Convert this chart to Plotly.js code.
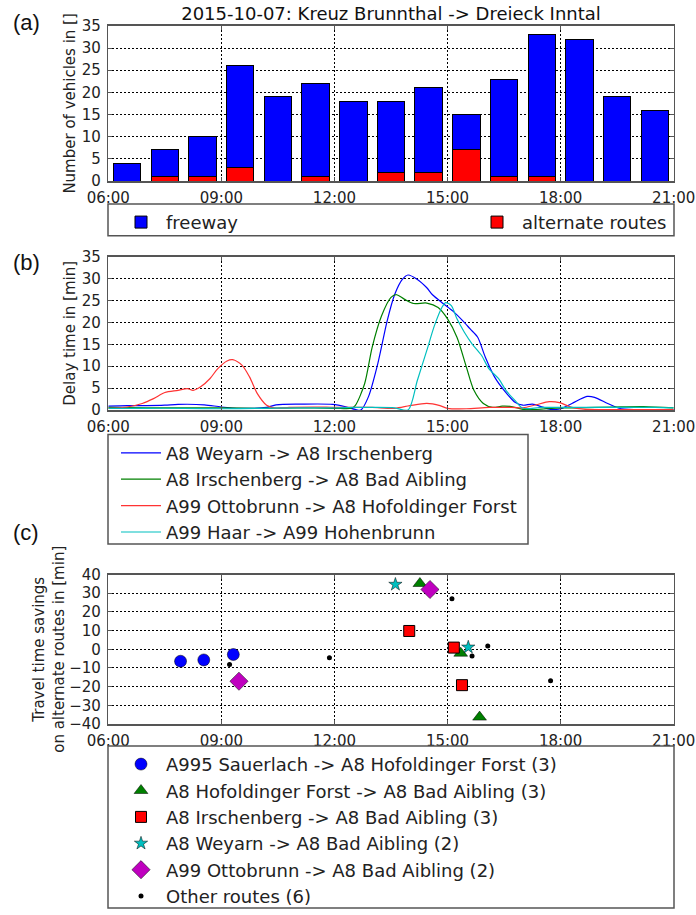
<!DOCTYPE html>
<html><head><meta charset="utf-8">
<script src="https://cdn.plot.ly/plotly-3.0.1.min.js"></script>
<style>html,body{margin:0;padding:0;background:#fff}#chart{width:696px;height:915px}</style>
</head><body><div id="chart"></div><script>
const DAY = '2015-10-07 ';

// ---------- (a) vehicles per hour ----------
const hourBins = ['06:00','07:00','08:00','09:00','10:00','11:00','12:00','13:00','14:00','15:00','16:00','17:00','18:00','19:00','20:00'];
const freeway   = [4, 6, 9, 23, 19, 21, 18, 16, 19, 8, 22, 32, 32, 19, 16];
const alternate = [0, 1, 1, 3, 0, 1, 0, 2, 2, 7, 1, 1, 0, 0, 0];

// ---------- (b) delay time [min] ----------
const weyarnTimes = ['06:00','06:30','07:00','07:30','07:51','08:33','09:00','09:30','10:12','10:27','11:06','11:57','12:18','12:33','12:42','12:54','13:09','13:24','13:36','13:48','13:57','14:12','14:27','14:36','14:54','15:09','15:24','15:36','15:48','16:00','16:15','16:30','16:48','17:00','17:15','17:30','17:42','18:00','18:18','18:42','18:54','19:15','19:33','20:00','20:30','21:00'];
const weyarnDelay = [0.9,1.0,1.0,1.1,1.3,1.2,0.7,0.4,0.6,1.2,1.35,1.3,0.75,0.15,0.0,3.0,10.6,20.4,26.4,29.8,30.8,29.8,27.9,26.3,24.2,22.5,20.4,18.5,16.6,12.1,7.5,4.5,1.7,1.1,1.35,0.75,0.2,0.3,1.5,3.1,2.9,1.5,0.4,0.1,0.1,0.1];

const irschTimes = ['06:00','07:00','08:00','09:00','10:00','11:00','12:00','12:27','12:33','12:48','13:00','13:15','13:30','13:39','13:51','14:06','14:27','14:45','15:00','15:15','15:30','15:42','15:57','16:12','16:27','16:42','17:00','17:15','18:00','18:24','19:24','20:12','21:00'];
const irschDelay = [0.6,0.5,0.5,0.5,0.4,0.5,0.4,0.4,1.0,6.0,14.3,21.5,25.7,26.3,25.3,24.3,24.4,23.4,20.8,16.6,9.8,4.5,1.5,0.6,0.9,0.8,0.15,0.1,0.5,0.5,0.7,0.8,0.5];

const ottoTimes = ['06:00','06:30','06:54','07:12','07:30','07:51','08:06','08:15','08:27','08:42','08:54','09:09','09:18','09:33','09:45','09:57','10:12','10:27','10:48','11:30','12:00','12:30','13:00','13:36','14:00','14:27','14:48','15:00','15:30','16:06','16:42','17:00','17:21','17:42','17:58','18:18','18:36','19:30','20:30','21:00'];
const ottoDelay = [0.4,0.7,1.5,2.6,4.0,4.5,4.9,4.5,5.3,7.2,9.4,11.2,11.5,10.2,7.5,3.8,1.1,0.4,0.6,0.7,0.6,0.6,0.6,0.4,1.0,1.5,1.0,0.4,0.3,0.6,0.6,0.5,1.2,1.9,1.7,0.6,0.2,0.1,0.1,0.1];

const haarTimes = ['06:00','07:00','08:00','09:00','10:00','11:00','12:00','12:30','13:00','13:36','13:57','14:12','14:27','14:39','14:51','14:57','15:06','15:15','15:27','15:39','15:54','16:06','16:21','16:33','16:48','17:00','17:30','18:30','19:30','20:30','21:00'];
const haarDelay = [0.4,0.4,0.4,0.3,0.4,0.5,0.5,0.6,0.6,0.5,0.0,6.8,13.6,19.2,23.4,24.5,23.8,20.8,17.7,15.1,12.5,9.4,7.2,4.5,2.1,0.4,0.6,0.6,0.6,0.6,0.5];

// ---------- (c) travel time savings [min] ----------
const sauerTimes = ['07:55','08:32','09:19'];      const sauerSave = [-6.4,-5.7,-2.8];
const hofoTimes  = ['14:16','15:21','15:51'];      const hofoSave  = [35.2,-2.1,-36.3];
const irBATimes  = ['13:59','15:10','15:23'];      const irBASave  = [9.8,0.9,-19.2];
const weBATimes  = ['13:37','15:33'];              const weBASave  = [34.7,1.1];
const otBATimes  = ['14:32','09:28'];              const otBASave  = [32.0,-17.1];
const otherTimes = ['09:13','11:52','15:07','16:04','15:39','17:44']; const otherSave = [-8.2,-4.6,27.0,1.8,-3.6,-16.9];

const tickLabels = ['06:00','09:00','12:00','15:00','18:00','21:00'];

// ---------- layout helpers ----------
const FONT = 'DejaVu Sans, sans-serif';
const W = 696, H = 915;
const px = v => v / W;
const py = v => 1 - v / H;
const X0 = 108.3, X1 = 673.7;
const d = arr => arr.map(t => DAY + t);
const HOUR = 3600e3;

function xAxis(anchor) {
  return {
    domain: [px(X0), px(X1)], anchor: anchor, type: 'date',
    range: [DAY + '06:00', DAY + '21:00'],
    tickvals: d(tickLabels), ticktext: tickLabels,
    showgrid: true, gridcolor: '#000', griddash: '2px,2px', gridwidth: 1,
    showline: true, linecolor: '#555', linewidth: 1.5, mirror: 'ticks',
    ticks: 'inside', ticklen: 4, tickcolor: '#555', ticklabelstandoff: 2,
    tickfont: {family: FONT, size: 15, color: '#222'}, zeroline: false, fixedrange: true
  };
}
function yAxis(anchor, top, bot, range, dtick, title, standoff) {
  return {
    domain: [py(bot), py(top)], anchor: anchor, range: range, dtick: dtick, tick0: 0,
    showgrid: true, gridcolor: '#000', griddash: '2px,2px', gridwidth: 1,
    showline: true, linecolor: '#555', linewidth: 1.5, mirror: 'ticks',
    ticks: 'inside', ticklen: 4, tickcolor: '#555', ticklabelstandoff: 3,
    tickfont: {family: FONT, size: 15, color: '#222'}, zeroline: false, fixedrange: true,
    title: {text: title, font: {family: FONT, size: 15, color: '#222'}, standoff: standoff}
  };
}

const traces = [
  {type: 'bar', x: d(hourBins), y: alternate, name: 'alternate routes', xaxis: 'x', yaxis: 'y',
   offset: 0.135 * HOUR, width: 0.73 * HOUR, legend: 'legend2',
   marker: {color: '#ff0000', line: {color: '#000', width: 1}}},
  {type: 'bar', x: d(hourBins), y: freeway, name: 'freeway', xaxis: 'x', yaxis: 'y',
   offset: 0.135 * HOUR, width: 0.73 * HOUR, legend: 'legend',
   marker: {color: '#0000ff', line: {color: '#000', width: 1}}},

  {type: 'scatter', mode: 'lines', x: d(weyarnTimes), y: weyarnDelay, name: 'A8 Weyarn -> A8 Irschenberg',
   xaxis: 'x2', yaxis: 'y2', legend: 'legend3', line: {color: '#0000ff', width: 1.2, shape: 'spline', smoothing: 0.8}},
  {type: 'scatter', mode: 'lines', x: d(irschTimes), y: irschDelay, name: 'A8 Irschenberg -> A8 Bad Aibling',
   xaxis: 'x2', yaxis: 'y2', legend: 'legend3', line: {color: '#008000', width: 1.2, shape: 'spline', smoothing: 0.8}},
  {type: 'scatter', mode: 'lines', x: d(ottoTimes), y: ottoDelay, name: 'A99 Ottobrunn -> A8 Hofoldinger Forst',
   xaxis: 'x2', yaxis: 'y2', legend: 'legend3', line: {color: '#ff3333', width: 1.2, shape: 'spline', smoothing: 0.8}},
  {type: 'scatter', mode: 'lines', x: d(haarTimes), y: haarDelay, name: 'A99 Haar -> A99 Hohenbrunn',
   xaxis: 'x2', yaxis: 'y2', legend: 'legend3', line: {color: '#00bfbf', width: 1.2, shape: 'spline', smoothing: 0.8}},

  {type: 'scatter', mode: 'markers', x: d(sauerTimes), y: sauerSave, name: 'A995 Sauerlach -> A8 Hofoldinger Forst (3)',
   xaxis: 'x3', yaxis: 'y3', legend: 'legend4', marker: {symbol: 'circle', size: 12, color: '#0000ff', line: {color: '#000', width: 0.5}}},
  {type: 'scatter', mode: 'markers', x: d(hofoTimes), y: hofoSave, name: 'A8 Hofoldinger Forst -> A8 Bad Aibling (3)',
   xaxis: 'x3', yaxis: 'y3', legend: 'legend4', marker: {symbol: 'triangle-up', size: 12, color: '#008000', line: {color: '#000', width: 0.5}}},
  {type: 'scatter', mode: 'markers', x: d(irBATimes), y: irBASave, name: 'A8 Irschenberg -> A8 Bad Aibling (3)',
   xaxis: 'x3', yaxis: 'y3', legend: 'legend4', marker: {symbol: 'square', size: 11, color: '#ff0000', line: {color: '#000', width: 1}}},
  {type: 'scatter', mode: 'markers', x: d(weBATimes), y: weBASave, name: 'A8 Weyarn -> A8 Bad Aibling (2)',
   xaxis: 'x3', yaxis: 'y3', legend: 'legend4', marker: {symbol: 'star', size: 10, color: '#00bfbf', line: {color: '#000', width: 0.5}}},
  {type: 'scatter', mode: 'markers', x: d(otBATimes), y: otBASave, name: 'A99 Ottobrunn -> A8 Bad Aibling (2)',
   xaxis: 'x3', yaxis: 'y3', legend: 'legend4', marker: {symbol: 'diamond', size: 14, color: '#bf00bf', line: {color: '#000', width: 0.5}}},
  {type: 'scatter', mode: 'markers', x: d(otherTimes), y: otherSave, name: 'Other routes (6)',
   xaxis: 'x3', yaxis: 'y3', legend: 'legend4', marker: {symbol: 'circle', size: 5, color: '#000'}}
];

const legendBase = {bgcolor: 'rgba(0,0,0,0)', borderwidth: 0, xanchor: 'left', yanchor: 'top',
  font: {family: FONT, size: 18, color: '#222'}, itemwidth: 40, tracegroupgap: 0};

const boxLine = {color: '#555', width: 1.5};
const layout = {
  width: W, height: H, margin: {l: 0, r: 0, t: 0, b: 0},
  paper_bgcolor: '#fff', plot_bgcolor: '#fff', showlegend: true, barmode: 'stack', bargap: 0,
  font: {family: FONT, color: '#222'},
  title: {text: '2015-10-07: Kreuz Brunnthal -> Dreieck Inntal', font: {family: FONT, size: 18, color: '#111'},
          x: 391 / W, xanchor: 'center', y: 1 - 14 / H, yanchor: 'middle'},
  xaxis: xAxis('y'), yaxis: yAxis('x', 26, 182, [0, 35], 5, 'Number of vehicles in []', 2),
  xaxis2: xAxis('y2'), yaxis2: yAxis('x2', 258, 412.3, [0, 35], 5, 'Delay time in [min]', 2),
  xaxis3: xAxis('y3'), yaxis3: yAxis('x3', 577.7, 728, [-40, 40], 10, 'Travel time savings<br>on alternate routes in [min]', 1),
  legend:  Object.assign({}, legendBase, {x: px(116), y: py(205)}),
  legend2: Object.assign({}, legendBase, {x: px(672), y: py(205), xanchor: 'right'}),
  legend3: Object.assign({}, legendBase, {x: px(116), y: py(437)}),
  legend4: Object.assign({}, legendBase, {x: px(116), y: py(750)}),
  shapes: [
    {type: 'rect', xref: 'paper', yref: 'paper', x0: px(108), x1: px(674), y0: py(237), y1: py(205), line: boxLine},
    {type: 'rect', xref: 'paper', yref: 'paper', x0: px(108), x1: px(528), y0: py(547), y1: py(437), line: boxLine},
    {type: 'rect', xref: 'paper', yref: 'paper', x0: px(108), x1: px(674), y0: py(913), y1: py(750), line: boxLine}
  ],
  annotations: [
    {text: '(a)', xref: 'paper', yref: 'paper', x: px(26), y: py(23), showarrow: false, xanchor: 'center', yanchor: 'middle',
     font: {family: 'Liberation Sans, Arial, sans-serif', size: 22, color: '#111'}},
    {text: '(b)', xref: 'paper', yref: 'paper', x: px(26), y: py(264), showarrow: false, xanchor: 'center', yanchor: 'middle',
     font: {family: 'Liberation Sans, Arial, sans-serif', size: 22, color: '#111'}},
    {text: '(c)', xref: 'paper', yref: 'paper', x: px(26), y: py(535), showarrow: false, xanchor: 'center', yanchor: 'middle',
     font: {family: 'Liberation Sans, Arial, sans-serif', size: 22, color: '#111'}}
  ]
};

Plotly.newPlot('chart', traces, layout, {staticPlot: true, displayModeBar: false});
</script></body></html>
